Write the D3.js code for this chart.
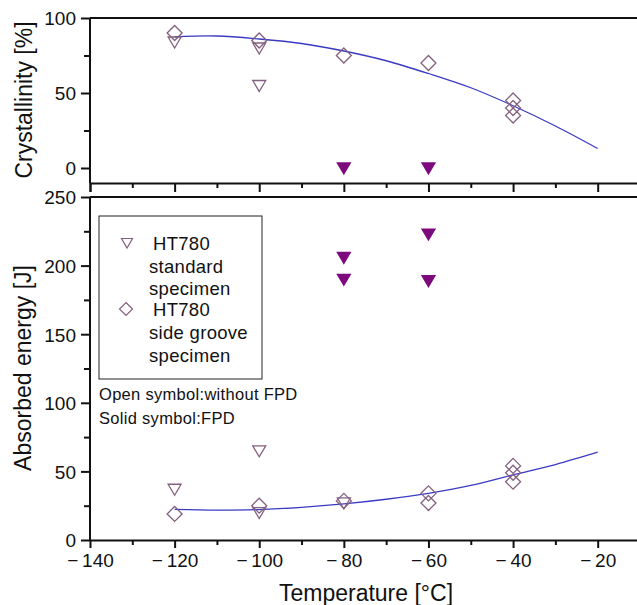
<!DOCTYPE html>
<html>
<head>
<meta charset="utf-8">
<title>Crystallinity and absorbed energy</title>
<script src="https://cdn.jsdelivr.net/npm/d3@7"></script>
<style>
  body { margin: 0; background: #fff; }
  svg text { font-family: "Liberation Sans", Arial, sans-serif; fill: #111; }
</style>
</head>
<body>
<div id="chart"></div>
<script>
// x ticks
var xTicks = [-140, -120, -100, -80, -60, -40, -20];

// crystallinity panel [%]
var crystDiaT = [-120, -100, -80, -60, -40, -40, -40];
var crystDiaV = [90, 85, 75, 70, 45, 40, 35];
var crystOpenT = [-120, -100, -100];
var crystOpenV = [84, 80, 55];
var crystSolidT = [-80, -60];
var crystSolidV = [0, 0];
// fitted curve
var crystFitT = [-120, -110, -100, -90, -80, -70, -60, -50, -40, -30, -20];
var crystFitV = [87.5, 88, 86, 83, 78, 71.5, 63, 53.5, 41.5, 28, 13];

// absorbed energy panel [J]
var enDiaT = [-120, -100, -80, -60, -60, -40, -40, -40];
var enDiaV = [19, 25, 28.5, 34, 27, 54, 49, 42.5];
var enOpenT = [-120, -100, -100, -80];
var enOpenV = [37, 65, 20, 27];
var enSolidT = [-80, -80, -60, -60];
var enSolidV = [206, 190, 223, 189];
var enFitT = [-120, -110, -100, -90, -80, -70, -60, -50, -40, -30, -20];
var enFitV = [22.3, 21.8, 22.2, 23.8, 26.3, 29.7, 34, 39.8, 47.5, 55, 64];

var width = 637, height = 605;
var svg = d3.select("#chart").append("svg")
    .attr("width", width).attr("height", height);

var x = d3.scaleLinear().domain([-140, -10]).range([90, 640]);
var yTop = d3.scaleLinear().domain([-10, 100]).range([183, 18]);
var yBot = d3.scaleLinear().domain([0, 250]).range([540, 197]);

var openCol = "#84607f", solidCol = "#7d0a7d", fitCol = "#3a3ac4";

function zip(a, b) { return a.map(function(v, i) { return [v, b[i]]; }); }

function styleAxis(g) {
    g.selectAll("path").attr("stroke", "#111").attr("stroke-width", 2);
    g.selectAll("line").attr("stroke", "#111").attr("stroke-width", 2);
}

// ---------- top panel ----------
var topX = svg.append("g").attr("transform", "translate(0,183)")
    .call(d3.axisBottom(x).tickValues(d3.range(-140, -9, 10)).tickSize(9).tickFormat(""))
    .call(styleAxis);
topX.selectAll(".tick line").attr("y2", function(d) { return d % 20 === 0 ? 9 : 5; });
svg.append("line").attr("x1", 90).attr("x2", 640).attr("y1", 18).attr("y2", 18)
    .attr("stroke", "#111").attr("stroke-width", 2);

var topY = svg.append("g").attr("transform", "translate(90,0)")
    .call(d3.axisLeft(yTop).tickValues([0, 25, 50, 75, 100]).tickSize(9).tickSizeOuter(0)
        .tickFormat(function(d) { return d % 50 === 0 ? d : ""; }))
    .call(styleAxis);
topY.selectAll(".tick line").attr("x2", function(d) { return d % 50 === 0 ? -9 : -6; });
topY.selectAll("text").attr("font-size", 19).attr("x", -14).attr("dy", "0.36em");

// ---------- bottom panel ----------
svg.append("line").attr("x1", 90).attr("x2", 640).attr("y1", 197).attr("y2", 197)
    .attr("stroke", "#111").attr("stroke-width", 2);

var botX = svg.append("g").attr("transform", "translate(0,540)")
    .call(d3.axisBottom(x).tickValues(d3.range(-140, -9, 10)).tickSize(7).tickSizeOuter(0)
        .tickFormat(function(d) { return xTicks.indexOf(d) >= 0 ? "\u2212\u2009" + Math.abs(d) : ""; }))
    .call(styleAxis);
botX.selectAll(".tick line").attr("y2", function(d) { return d % 20 === 0 ? 8 : 5; });
botX.selectAll("text").attr("font-size", 19).attr("y", 14).attr("dy", "0.71em");

var botY = svg.append("g").attr("transform", "translate(90,0)")
    .call(d3.axisLeft(yBot).tickValues(d3.range(0, 251, 25)).tickSize(9).tickSizeOuter(0)
        .tickFormat(function(d) { return d % 50 === 0 ? d : ""; }))
    .call(styleAxis);
botY.selectAll(".tick line").attr("x2", function(d) { return d % 50 === 0 ? -9 : -6; });
botY.selectAll("text").attr("font-size", 19).attr("x", -14).attr("dy", "0.36em");
// left axis spans each panel only
botY.select(".domain").attr("d", "M0," + yBot(250) + "V" + yBot(0));
topY.select(".domain").attr("d", "M0," + yTop(100) + "V" + yTop(-10));

// ---------- fits ----------
var line = function(ys) {
    return d3.line().x(function(d) { return x(d[0]); }).y(function(d) { return ys(d[1]); })
        .curve(d3.curveCatmullRom);
};
svg.append("path").datum(zip(crystFitT, crystFitV)).attr("d", line(yTop))
    .attr("fill", "none").attr("stroke", fitCol).attr("stroke-width", 1.3);
svg.append("path").datum(zip(enFitT, enFitV)).attr("d", line(yBot))
    .attr("fill", "none").attr("stroke", fitCol).attr("stroke-width", 1.3);

// ---------- markers ----------
var diamond = "M0,-7.5L7.5,0L0,7.5L-7.5,0Z";
var tri = "M-6.5,-5L6.5,-5L0,6Z";

function marks(T, V, ys, shape, solid) {
    svg.append("g").selectAll("path").data(zip(T, V)).enter().append("path")
        .attr("transform", function(d) { return "translate(" + x(d[0]) + "," + ys(d[1]) + ")"; })
        .attr("d", shape)
        .attr("fill", solid ? solidCol : "none")
        .attr("stroke", solid ? solidCol : openCol)
        .attr("stroke-width", 1.3);
}
marks(crystDiaT, crystDiaV, yTop, diamond, false);
marks(crystOpenT, crystOpenV, yTop, tri, false);
marks(crystSolidT, crystSolidV, yTop, tri, true);
marks(enDiaT, enDiaV, yBot, diamond, false);
marks(enOpenT, enOpenV, yBot, tri, false);
marks(enSolidT, enSolidV, yBot, tri, true);

// ---------- legend ----------
var leg = svg.append("g");
leg.append("rect").attr("x", 99).attr("y", 216).attr("width", 163).attr("height", 163)
    .attr("fill", "#fff").attr("stroke", "#222").attr("stroke-width", 1);
leg.append("path").attr("transform", "translate(127,243)").attr("d", "M-5.5,-4.5L5.5,-4.5L0,5Z")
    .attr("fill", "none").attr("stroke", openCol).attr("stroke-width", 1.2);
leg.append("path").attr("transform", "translate(126,309)").attr("d", "M0,-6.5L6.5,0L0,6.5L-6.5,0Z")
    .attr("fill", "none").attr("stroke", openCol).attr("stroke-width", 1.2);
var legLines = [
    ["HT780", 153, 250], ["standard", 149, 273], ["specimen", 149, 295],
    ["HT780", 153, 316], ["side groove", 149, 339], ["specimen", 149, 362]
];
legLines.forEach(function(l) {
    leg.append("text").attr("x", l[1]).attr("y", l[2]).attr("font-size", 18.5)
        .attr("letter-spacing", 0.3).text(l[0]);
});
leg.append("text").attr("x", 99).attr("y", 400).attr("font-size", 16.5)
    .attr("letter-spacing", 0.3).text("Open symbol:without FPD");
leg.append("text").attr("x", 99).attr("y", 424).attr("font-size", 16.5)
    .attr("letter-spacing", 0.3).text("Solid symbol:FPD");

// ---------- axis titles ----------
svg.append("text").attr("transform", "translate(32,100) rotate(-90)")
    .attr("text-anchor", "middle").attr("font-size", 23).text("Crystallinity [%]");
svg.append("text").attr("transform", "translate(31,368) rotate(-90)")
    .attr("text-anchor", "middle").attr("font-size", 23).text("Absorbed energy [J]");
svg.append("text").attr("x", 366).attr("y", 601)
    .attr("text-anchor", "middle").attr("font-size", 23).text("Temperature [\u00b0C]");
</script>
</body>
</html>
